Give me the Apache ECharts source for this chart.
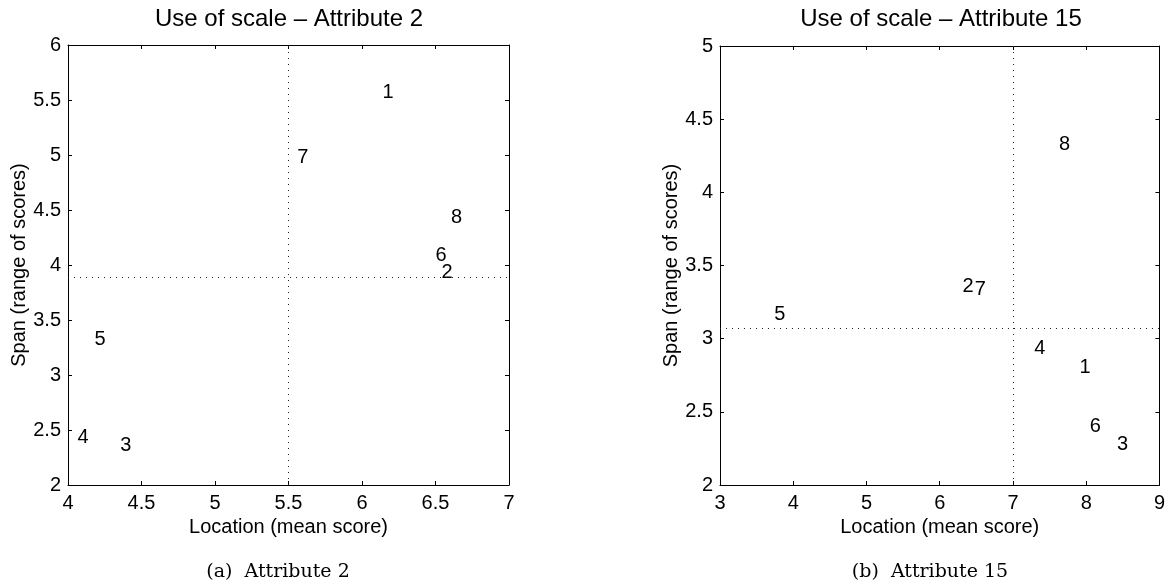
<!DOCTYPE html>
<html>
<head>
<meta charset="utf-8">
<title>Use of scale</title>
<script src="https://cdn.jsdelivr.net/npm/echarts@6/dist/echarts.min.js"></script>
<style>
  html, body { margin: 0; padding: 0; background: #fff; }
  #chart { width: 1168px; height: 585px; }
</style>
</head>
<body>
<div id="chart"></div>
<script>
// Assessor ids shown as text marks
const assessorIds = ['1', '2', '3', '4', '5', '6', '7', '8'];

// Attribute 2: location (mean score) and span (range of scores) per assessor
const attr2Location = [6.14, 6.54, 4.355, 4.065, 4.18, 6.50, 5.56, 6.605];
const attr2Span     = [5.57, 3.93, 2.36, 2.43, 3.32, 4.09, 4.98, 4.43];
// Panel averages drawn as dotted reference lines [location, span]
const attr2Means    = [5.5, 3.89];

// Attribute 15
const attr15Location = [7.91, 6.31, 8.42, 7.29, 3.74, 8.05, 6.48, 7.63];
const attr15Span     = [2.80, 3.36, 2.28, 2.93, 3.165, 2.40, 3.335, 4.33];
const attr15Means    = [7.0, 3.07];

// Axis ranges and tick steps
const attr2XRange = [4, 7],  attr2YRange = [2, 6];
const attr15XRange = [3, 9], attr15YRange = [2, 5];
const attr2XStep = 0.5, attr2YStep = 0.5;
const attr15XStep = 1, attr15YStep = 0.5;

const titles = ['Use of scale \u2013 Attribute 2', 'Use of scale \u2013 Attribute 15'];
const captions = ['(a)  Attribute 2', '(b)  Attribute 15'];
const xName = 'Location (mean score)';
const yName = 'Span (range of scores)';

const FONT = '"Liberation Sans", Arial, Helvetica, sans-serif';
const SERIF = '"DejaVu Serif", "Liberation Serif", serif';

const grids = [
  { left: 68, top: 45, width: 441, height: 440 },
  { left: 720, top: 46, width: 440, height: 439 }
];

function mainX(gridIndex, range, step) {
  return {
    type: 'value', gridIndex, position: 'bottom',
    min: range[0], max: range[1], interval: step,
    name: xName, nameLocation: 'middle', nameGap: 29,
    nameTextStyle: { fontFamily: FONT, fontSize: 20, color: '#000' },
    axisLine: { show: true, onZero: false, lineStyle: { color: '#000', width: 1 } },
    axisTick: { show: true, inside: true, length: 4, lineStyle: { color: '#000' } },
    axisLabel: { show: true, margin: 8, fontFamily: FONT, fontSize: 20, color: '#000',
      showMinLabel: true, showMaxLabel: true },
    splitLine: { show: false }
  };
}
function boxX(gridIndex, range, step) {
  return {
    type: 'value', gridIndex, position: 'top',
    min: range[0], max: range[1], interval: step,
    axisLine: { show: true, onZero: false, lineStyle: { color: '#000', width: 1 } },
    axisTick: { show: true, inside: true, length: 4, lineStyle: { color: '#000' } },
    axisLabel: { show: false },
    splitLine: { show: false }
  };
}
function mainY(gridIndex, range, step) {
  return {
    type: 'value', gridIndex, position: 'left',
    min: range[0], max: range[1], interval: step,
    name: yName, nameLocation: 'middle', nameGap: 39,
    nameTextStyle: { fontFamily: FONT, fontSize: 20, color: '#000' },
    axisLine: { show: true, onZero: false, lineStyle: { color: '#000', width: 1 } },
    axisTick: { show: true, inside: true, length: 4, lineStyle: { color: '#000' } },
    axisLabel: { show: true, margin: 7, fontFamily: FONT, fontSize: 20, color: '#000',
      showMinLabel: true, showMaxLabel: true },
    splitLine: { show: false }
  };
}
function boxY(gridIndex, range, step) {
  return {
    type: 'value', gridIndex, position: 'right',
    min: range[0], max: range[1], interval: step,
    axisLine: { show: true, onZero: false, lineStyle: { color: '#000', width: 1 } },
    axisTick: { show: true, inside: true, length: 4, lineStyle: { color: '#000' } },
    axisLabel: { show: false },
    splitLine: { show: false }
  };
}

function idSeries(axisIndex, xs, ys, means) {
  return {
    type: 'scatter',
    xAxisIndex: axisIndex, yAxisIndex: axisIndex,
    data: xs.map((x, i) => [x, ys[i], assessorIds[i]]),
    symbol: 'circle', symbolSize: 0,
    itemStyle: { color: '#000' },
    silent: true,
    label: {
      show: true, position: 'right', distance: 0,
      formatter: p => p.data[2],
      fontFamily: FONT, fontSize: 20, color: '#000', opacity: 1
    },
    markLine: {
      silent: true, symbol: 'none', animation: false,
      label: { show: false },
      lineStyle: { type: [1, 5], color: '#222', width: 1 },
      data: [{ xAxis: means[0] }, { yAxis: means[1] }]
    }
  };
}

const chart = echarts.init(document.getElementById('chart'), null, { renderer: 'canvas' });
chart.setOption({
  backgroundColor: '#fff',
  animation: false,
  title: [
    { text: titles[0], left: 289, top: 7, textAlign: 'center', padding: 0,
      textStyle: { fontFamily: FONT, fontSize: 24, fontWeight: 'normal', color: '#000' } },
    { text: titles[1], left: 941, top: 7, textAlign: 'center', padding: 0,
      textStyle: { fontFamily: FONT, fontSize: 24, fontWeight: 'normal', color: '#000' } },
    { text: captions[0], left: 278, top: 563, textAlign: 'center', padding: 0,
      textStyle: { fontFamily: SERIF, fontSize: 19, fontWeight: 'normal', color: '#000' } },
    { text: captions[1], left: 930, top: 563, textAlign: 'center', padding: 0,
      textStyle: { fontFamily: SERIF, fontSize: 19, fontWeight: 'normal', color: '#000' } }
  ],
  grid: grids,
  xAxis: [
    mainX(0, attr2XRange, attr2XStep), mainX(1, attr15XRange, attr15XStep),
    boxX(0, attr2XRange, attr2XStep), boxX(1, attr15XRange, attr15XStep)
  ],
  yAxis: [
    mainY(0, attr2YRange, attr2YStep), mainY(1, attr15YRange, attr15YStep),
    boxY(0, attr2YRange, attr2YStep), boxY(1, attr15YRange, attr15YStep)
  ],
  series: [
    idSeries(0, attr2Location, attr2Span, attr2Means),
    idSeries(1, attr15Location, attr15Span, attr15Means)
  ]
});
</script>
</body>
</html>
